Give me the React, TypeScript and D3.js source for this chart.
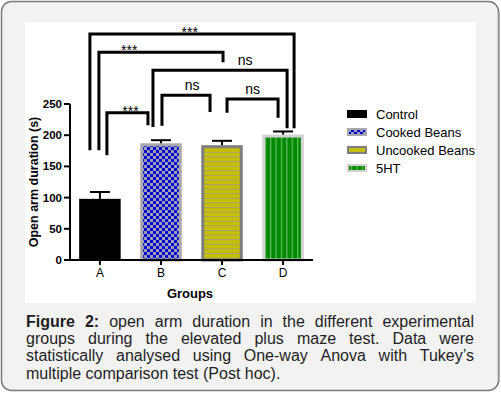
import React, { useEffect, useRef } from "react";
import * as d3 from "d3";

// data
const groups = ["A", "B", "C", "D"];
const seriesNames = ["Control", "Cooked Beans", "Uncooked Beans", "5HT"];
const means = [98, 187, 184, 201];
const sems = [11, 5, 7, 5];
const yTicks = [0, 50, 100, 150, 200, 250];

// significance brackets (heights in seconds)
const comparisons = [
  { from: "A", to: "D", label: "***", top: 362, leftEnd: 176, rightEnd: 211, labelAt: 0.49 },
  { from: "A", to: "C", label: "***", top: 333, leftEnd: 176, rightEnd: 317, labelAt: 0.24 },
  { from: "B", to: "D", label: "ns", top: 304, leftEnd: 213, rightEnd: 211, labelAt: 0.69 },
  { from: "A", to: "B", label: "***", top: 236, leftEnd: 168, rightEnd: 216, labelAt: 0.5 },
  { from: "B", to: "C", label: "ns", top: 264, leftEnd: 215, rightEnd: 237, labelAt: 0.51 },
  { from: "C", to: "D", label: "ns", top: 258, leftEnd: 236, rightEnd: 228, labelAt: 0.5 },
];

const captionLines = [
  "Figure 2: open arm duration in the different experimental",
  "groups during the elevated plus maze test. Data were",
  "statistically analysed using One-way Anova with Tukey’s",
  "multiple comparison test (Post hoc).",
];

// leg offsets from the bar centre, px
const legOffsets = [
  [-10, 11],
  [-1, 1],
  [-8, 4],
  [7, -13],
  [1, -12],
  [5, -5],
];

const FONT = "'Liberation Sans', Arial, Helvetica, sans-serif";
const W = 501;
const H = 393;

const fills = ["#000", "url(#checks)", "url(#hlines)", "url(#vlines)"];
const strokes = ["none", "#a7a7ad", "#7f7f7f", "#d2d2d2"];

export default function App() {
  const capRef = useRef<SVGGElement>(null);

  useEffect(() => {
    document.body.style.margin = "0";
    const g = d3.select(capRef.current);
    g.selectAll("*").remove();
    const x0 = 26;
    const x1 = 474;
    captionLines.forEach((line, i) => {
      const words = line.split(" ");
      const y = 327 + i * 17.2;
      const nodes = words.map((w, j) =>
        g
          .append("text")
          .attr("y", y)
          .attr("font-size", 16)
          .attr("font-family", FONT)
          .attr("fill", "#1e1e1e")
          .attr("font-weight", i === 0 && j < 2 ? "bold" : "normal")
          .text(w)
      );
      const widths = nodes.map((n) => (n.node() as SVGTextElement).getComputedTextLength());
      const total = d3.sum(widths);
      const last = i === captionLines.length - 1;
      const gap = last ? 4.45 : (x1 - x0 - total) / (words.length - 1);
      let x = x0;
      nodes.forEach((n, j) => {
        n.attr("x", x);
        x += widths[j] + gap;
      });
    });
  }, []);

  const x = d3.scaleBand().domain(groups).range([70, 313]).paddingInner(0.32).paddingOuter(0.15);
  const y = d3.scaleLinear().domain([0, 250]).range([260, 104]);
  const cx = (g: string) => (x(g) as number) + x.bandwidth() / 2;

  return (
    <svg width={W} height={H} style={{ display: "block" }} fontFamily={FONT}>
      <defs>
        <pattern id="checks" width="6" height="6" patternUnits="userSpaceOnUse">
          <rect width="6" height="6" fill="#9d9db4" />
          <rect width="3" height="3" fill="#0000d2" />
          <rect x="3" y="3" width="3" height="3" fill="#0000d2" />
        </pattern>
        <pattern id="hlines" width="6" height="4.6" patternUnits="userSpaceOnUse">
          <rect width="6" height="4.6" fill="#c6c000" />
          <rect y="0" width="6" height="1" fill="#a4a27a" />
        </pattern>
        <pattern id="vlines" width="5.4" height="6" patternUnits="userSpaceOnUse">
          <rect width="5.4" height="6" fill="#008800" />
          <rect x="0" width="1.3" height="6" fill="#5dbb5d" />
        </pattern>
      </defs>

      <rect x={0} y={0} width={W} height={H} fill="#fff" />
      <rect x={1.5} y={1.5} width={497} height={389} rx={10} fill="#f2f2f2" stroke="#7a7a7a" strokeWidth={1.5} />
      <line x1={499} y1={12} x2={499} y2={382} stroke="#a0a0a0" strokeWidth={1.5} />
      <rect x={25} y={22} width={451} height={281} fill="#fff" />

      {/* bars */}
      {groups.map((g, i) => {
        const inset = strokes[i] === "none" ? 0 : 1.5;
        return (
          <rect
            key={g}
            x={(x(g) as number) + inset}
            y={y(means[i]) + inset}
            width={x.bandwidth() - 2 * inset}
            height={y(0) - y(means[i]) - inset}
            fill={fills[i]}
            stroke={strokes[i]}
            strokeWidth={3}
          />
        );
      })}

      {/* error bars */}
      {groups.map((g, i) => (
        <g key={g} stroke="#000" strokeWidth={2}>
          <line x1={cx(g)} x2={cx(g)} y1={y(means[i])} y2={y(means[i] + sems[i])} />
          <line x1={cx(g) - 10} x2={cx(g) + 10} y1={y(means[i] + sems[i])} y2={y(means[i] + sems[i])} />
        </g>
      ))}

      {/* axes */}
      <g stroke="#000" strokeWidth={2}>
        <line x1={70} x2={70} y1={y(250)} y2={y(0) + 1} />
        <line x1={69} x2={313} y1={y(0)} y2={y(0)} />
        {yTicks.map((t) => (
          <line key={t} x1={64} x2={70} y1={y(t)} y2={y(t)} />
        ))}
        {groups.map((g) => (
          <line key={g} x1={cx(g)} x2={cx(g)} y1={y(0)} y2={y(0) + 5} />
        ))}
      </g>
      {yTicks.map((t) => (
        <text key={t} x={62} y={y(t) + 4} textAnchor="end" fontSize={11.5} fontWeight="bold" fill="#000">
          {t}
        </text>
      ))}
      {groups.map((g) => (
        <text key={g} x={cx(g)} y={277} textAnchor="middle" fontSize={12} fill="#000">
          {g}
        </text>
      ))}
      <text x={190} y={298} textAnchor="middle" fontSize={13} fontWeight="bold">
        Groups
      </text>
      <text
        transform="translate(38,182) rotate(-90)"
        textAnchor="middle"
        fontSize={12.5}
        fontWeight="bold"
      >
        Open arm duration (s)
      </text>

      {/* significance brackets */}
      {comparisons.map((c, i) => {
        const xa = cx(c.from) + legOffsets[i][0];
        const xb = cx(c.to) + legOffsets[i][1];
        const yt = y(c.top);
        const lx = cx(c.from) + (cx(c.to) - cx(c.from)) * c.labelAt;
        return (
          <g key={i}>
            <path
              d={`M${xa},${y(c.leftEnd)}V${yt}H${xb}V${y(c.rightEnd)}`}
              fill="none"
              stroke="#000"
              strokeWidth={3}
            />
            <text
              x={lx}
              y={c.label === "ns" ? yt - 5 : yt + 3}
              textAnchor="middle"
              fontSize={14}
              fill="#000"
            >
              {c.label}
            </text>
          </g>
        );
      })}

      {/* legend */}
      {seriesNames.map((s, i) => {
        const ly = 110 + i * 18;
        return (
          <g key={s}>
            <rect x={347} y={ly} width={20} height={8} fill={i === 0 ? "#000" : strokes[i]} />
            {i > 0 && <rect x={349} y={ly + 2} width={16} height={4} fill={fills[i]} />}
            <text x={376} y={ly + 8.5} fontSize={13} fill="#000">
              {s}
            </text>
          </g>
        );
      })}

      <g ref={capRef} />
    </svg>
  );
}
